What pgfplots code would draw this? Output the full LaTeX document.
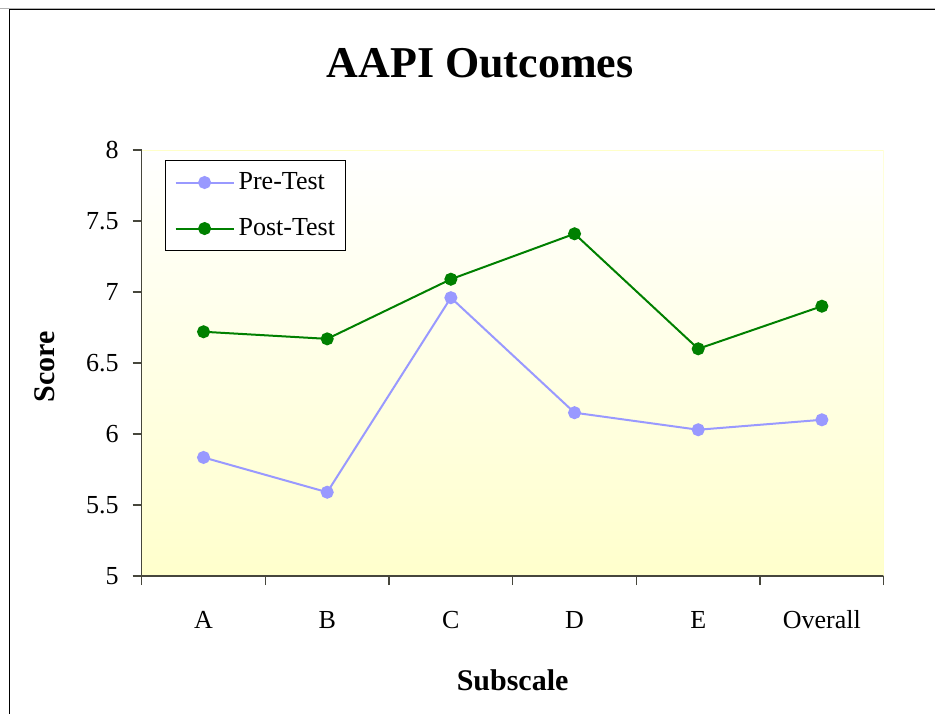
\documentclass[border=0pt]{standalone}
\usepackage{pgfplots}
\pgfplotsset{compat=1.18}
\usepackage{fontspec}
\setmainfont{Liberation Serif}
\definecolor{pre}{RGB}{153,153,255}
\definecolor{post}{RGB}{0,128,0}
\definecolor{bgyellow}{RGB}{255,255,204}
\definecolor{edgeyellow}{RGB}{255,255,200}
\definecolor{axisgray}{RGB}{70,70,60}
\begin{document}
\begin{tikzpicture}
\useasboundingbox (0,0) rectangle (467.5pt,356.5pt);
\draw[gray!60, line width=0.5pt] (0,352.4pt) -- (467.5pt,352.4pt);
\draw[black, line width=0.7pt] (4.75pt,-5pt) -- (4.75pt,351.75pt) -- (480pt,351.75pt);
\node[font=\fontsize{22}{26}\selectfont\bfseries, anchor=base] at (240pt,317.5pt) {AAPI Outcomes};
\node[font=\fontsize{15}{18}\selectfont\bfseries, anchor=base] at (256.3pt,11.5pt) {Subscale};
\node[font=\fontsize{15}{18}\selectfont\bfseries, rotate=90, anchor=center] at (22.5pt,173pt) {Score};
\begin{axis}[
  at={(70.85pt,68.5pt)}, anchor=south west,
  width=371pt, height=213pt, scale only axis,
  xmin=-0.5, xmax=5.5, ymin=5, ymax=8,
  xtick={0,...,5}, xticklabels={A,B,C,D,E,Overall},
  minor xtick={-0.5,0.5,...,5.5},
  ytick={5,5.5,...,8},
  yticklabels={5,5.5,6,6.5,7,7.5,8},
  axis lines*=left,
  axis line style={axisgray, line width=0.6pt},
  tick style={axisgray, line width=0.6pt},
  every major x tick/.append style={draw=none},
  tick align=outside,
  major tick length=4.5pt, minor tick length=4.5pt,
  tick label style={font=\fontsize{13}{15}\selectfont},
  xticklabel style={anchor=base, yshift=-21.5pt},
  yticklabel style={xshift=-3.5pt},
  axis background/.style={shade, top color=white, bottom color=bgyellow},
  legend style={at={(0,1)}, anchor=north west, xshift=11.7pt, yshift=-5pt,
    draw=black, line width=0.5pt, fill=white,
    font=\fontsize{13}{15}\selectfont, row sep=9pt, inner xsep=3pt, inner ysep=4pt,
    cells={anchor=west}},
  legend image code/.code={\path (0pt,0pt); \draw[mark repeat=2,mark phase=2,#1] plot coordinates {(1.5pt,0pt) (16pt,0pt) (30.5pt,0pt)};},
]
\addplot[pre, line width=1pt, mark=*, mark size=2.75pt, mark options={fill=pre, draw=pre}]
  coordinates {(0,5.835) (1,5.59) (2,6.96) (3,6.15) (4,6.03) (5,6.10)};
\addlegendentry{Pre-Test}
\addplot[post, line width=1pt, mark=*, mark size=2.75pt, mark options={fill=post, draw=post}]
  coordinates {(0,6.72) (1,6.67) (2,7.09) (3,7.41) (4,6.60) (5,6.90)};
\addlegendentry{Post-Test}
\draw[edgeyellow, line width=1.2pt] (rel axis cs:0,1) -- (rel axis cs:1,1) -- (rel axis cs:1,0);
\end{axis}
\end{tikzpicture}
\end{document}
